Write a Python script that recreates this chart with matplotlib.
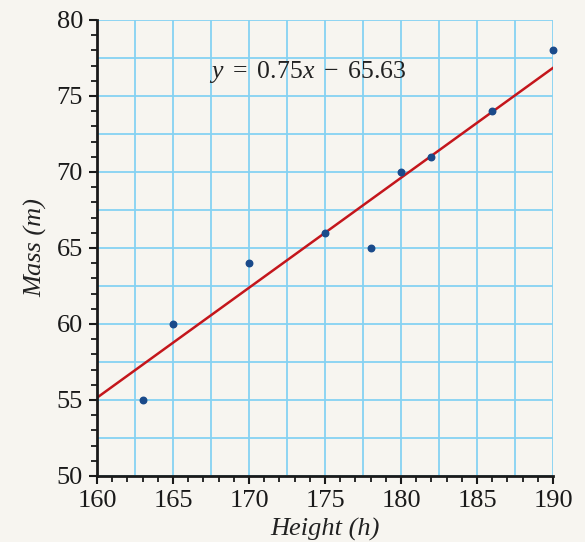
import numpy as np
import matplotlib.pyplot as plt
from matplotlib.ticker import MultipleLocator

height = [163, 165, 170, 175, 178, 180, 182, 186, 190]
mass = [55, 60, 64, 66, 65, 70, 71, 74, 78]
fit_x = [160, 190]
fit_y = [55.15, 76.85]
equation = r"$y\ =\ 0.75x\ -\ 65.63$"

plt.rcParams['mathtext.fontset'] = 'custom'
plt.rcParams['mathtext.rm'] = 'Liberation Serif'
plt.rcParams['mathtext.it'] = 'Liberation Serif:italic'
plt.rcParams['font.family'] = 'Liberation Serif'

bg = "#f7f5f0"
fig = plt.figure(figsize=(5.85, 5.42), dpi=100, facecolor=bg)
ax = fig.add_axes([0.1658, 0.1218, 0.7795, 0.8413])
ax.set_facecolor(bg)

ax.set_xlim(160, 190)
ax.set_ylim(50, 80)
ax.xaxis.set_major_locator(MultipleLocator(5))
ax.yaxis.set_major_locator(MultipleLocator(5))
ax.xaxis.set_minor_locator(MultipleLocator(1))
ax.yaxis.set_minor_locator(MultipleLocator(1))

# grid every 2.5 units
for gx in np.arange(160, 190.1, 2.5):
    ax.axvline(gx, color="#86d2f3", lw=1.3, zorder=0)
for gy in np.arange(50, 80.1, 2.5):
    ax.axhline(gy, color="#86d2f3", lw=1.3, zorder=0)

ax.plot(fit_x, fit_y, color="#c4161c", lw=1.8, zorder=2)
ax.scatter(height, mass, s=22, color="#1a4a8a", zorder=3, clip_on=False)

ax.text(167.4, 76.6, equation, fontsize=18.5, va="center", ha="left", color="#222222")

for s in ["top", "right"]:
    ax.spines[s].set_visible(False)
for s in ["left", "bottom"]:
    ax.spines[s].set_linewidth(2)
    ax.spines[s].set_color("#1a1a1a")

ax.tick_params(which="major", direction="out", length=6, width=1.5, labelsize=19,
               colors="#1a1a1a", pad=4)
ax.tick_params(which="minor", direction="out", length=4, width=1.3, colors="#1a1a1a")

ax.set_xlabel("Height (h)", fontsize=19, fontstyle="italic", color="#222222", labelpad=4)
ax.set_ylabel("Mass (m)", fontsize=19, fontstyle="italic", color="#222222", labelpad=7)

fig.savefig("out.png", dpi=100, facecolor=bg)
